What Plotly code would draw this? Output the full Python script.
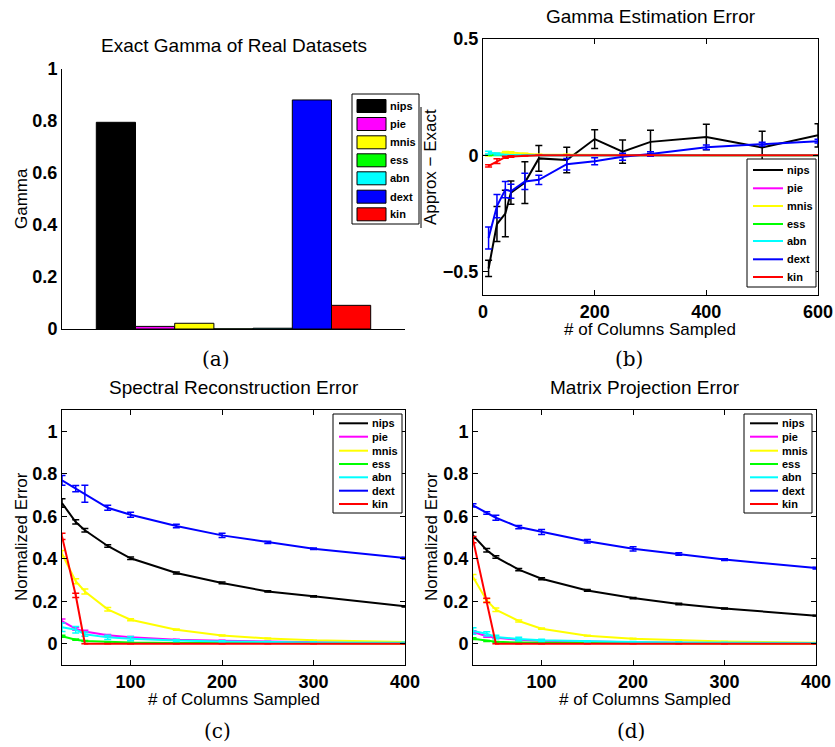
import plotly.graph_objects as go

W, H = 835, 747

names = ["nips", "pie", "mnis", "ess", "abn", "dext", "kin"]
colors = ["#000000", "#FF00FF", "#FFFF00", "#00FF00", "#00FFFF", "#0000FF", "#FF0000"]

# (a) exact gamma
gamma_exact = [0.795, 0.010, 0.022, 0.0005, 0.003, 0.881, 0.091]

# (b) gamma estimation error
x_b = [10, 25, 40, 50, 75, 100, 150, 200, 250, 300, 400, 500, 600]
b_nips = [-0.486, -0.295, -0.25, -0.16, -0.117, -0.013, -0.02, 0.07, 0.016, 0.058, 0.079, 0.034, 0.086]
b_nips_err = [0.035, 0.075, 0.1, 0.05, 0.09, 0.055, 0.055, 0.04, 0.05, 0.05, 0.055, 0.07, 0.05]
b_pie = [0.003, 0.002, 0.001, 0.001, 0.0, 0.0, 0.0, 0.0, 0.0, 0.0, 0.0, 0.0, 0.0]
b_pie_err = [0.002, 0.001, 0.001, 0.0, 0.0, 0.0, 0.0, 0.0, 0.0, 0.0, 0.0, 0.0, 0.0]
b_mnis = [0.0, 0.005, 0.012, 0.012, 0.006, 0.003, 0.003, 0.002, 0.001, 0.0, 0.0, 0.0, 0.0]
b_mnis_err = [0.003, 0.004, 0.005, 0.004, 0.003, 0.002, 0.002, 0.001, 0.001, 0.0, 0.0, 0.0, 0.0]
b_ess = [0.001, 0.001, 0.0, 0.0, 0.0, 0.0, 0.0, 0.0, 0.0, 0.0, 0.0, 0.0, 0.0]
b_ess_err = [0.001, 0.001, 0.0, 0.0, 0.0, 0.0, 0.0, 0.0, 0.0, 0.0, 0.0, 0.0, 0.0]
b_abn = [0.012, 0.006, 0.002, 0.001, 0.0, 0.0, 0.0, 0.0, 0.0, 0.0, 0.0, 0.0, 0.0]
b_abn_err = [0.006, 0.004, 0.002, 0.001, 0.0, 0.0, 0.0, 0.0, 0.0, 0.0, 0.0, 0.0, 0.0]
b_dext = [-0.355, -0.218, -0.147, -0.154, -0.112, -0.105, -0.038, -0.025, -0.006, 0.006, 0.035, 0.048, 0.061]
b_dext_err = [0.047, 0.05, 0.035, 0.03, 0.035, 0.02, 0.025, 0.015, 0.015, 0.01, 0.01, 0.008, 0.008]
b_kin = [-0.045, -0.025, -0.008, -0.005, -0.002, 0.0, 0.0, 0.0, 0.0, 0.0, 0.0, 0.0, 0.0]
b_kin_err = [0.005, 0.01, 0.004, 0.003, 0.001, 0.0, 0.0, 0.0, 0.0, 0.0, 0.0, 0.0, 0.0]

# (c) spectral reconstruction error, (d) matrix projection error
x_cd = [25, 40, 50, 75, 100, 150, 200, 250, 300, 400]
c_nips = [0.662, 0.573, 0.534, 0.46, 0.402, 0.333, 0.286, 0.246, 0.223, 0.176]
c_nips_err = [0.02, 0.01, 0.008, 0.006, 0.006, 0.005, 0.004, 0.003, 0.003, 0.003]
c_pie = [0.107, 0.07, 0.058, 0.04, 0.031, 0.019, 0.014, 0.01, 0.007, 0.004]
c_pie_err = [0.01, 0.006, 0.005, 0.004, 0.003, 0.002, 0.002, 0.001, 0.001, 0.001]
c_mnis = [0.424, 0.294, 0.246, 0.162, 0.113, 0.066, 0.039, 0.025, 0.016, 0.008]
c_mnis_err = [0.015, 0.012, 0.012, 0.008, 0.005, 0.003, 0.002, 0.002, 0.001, 0.001]
c_ess = [0.035, 0.019, 0.013, 0.008, 0.006, 0.004, 0.003, 0.002, 0.002, 0.001]
c_ess_err = [0.005, 0.003, 0.002, 0.001, 0.001, 0.001, 0.0, 0.0, 0.0, 0.0]
c_abn = [0.078, 0.066, 0.045, 0.03, 0.024, 0.015, 0.011, 0.008, 0.006, 0.005]
c_abn_err = [0.02, 0.015, 0.01, 0.01, 0.01, 0.004, 0.003, 0.002, 0.002, 0.002]
c_dext = [0.769, 0.73, 0.706, 0.64, 0.607, 0.554, 0.51, 0.477, 0.447, 0.403]
c_dext_err = [0.023, 0.015, 0.04, 0.012, 0.012, 0.008, 0.01, 0.005, 0.004, 0.004]
c_kin = [0.505, 0.228, 0.0, 0.0, 0.0, 0.0, 0.0, 0.0, 0.0, 0.0]
c_kin_err = [0.015, 0.01, 0.0, 0.0, 0.0, 0.0, 0.0, 0.0, 0.0, 0.0]

d_nips = [0.51, 0.44, 0.408, 0.349, 0.306, 0.251, 0.215, 0.187, 0.166, 0.132]
d_nips_err = [0.015, 0.008, 0.006, 0.005, 0.005, 0.004, 0.003, 0.003, 0.002, 0.002]
d_pie = [0.055, 0.035, 0.028, 0.019, 0.014, 0.009, 0.007, 0.005, 0.004, 0.003]
d_pie_err = [0.006, 0.004, 0.003, 0.002, 0.002, 0.001, 0.001, 0.001, 0.001, 0.0]
d_mnis = [0.314, 0.204, 0.16, 0.107, 0.071, 0.038, 0.024, 0.016, 0.01, 0.005]
d_mnis_err = [0.012, 0.008, 0.008, 0.005, 0.003, 0.002, 0.002, 0.001, 0.001, 0.001]
d_ess = [0.024, 0.013, 0.009, 0.006, 0.004, 0.003, 0.002, 0.002, 0.001, 0.001]
d_ess_err = [0.004, 0.002, 0.002, 0.001, 0.001, 0.0, 0.0, 0.0, 0.0, 0.0]
d_abn = [0.06, 0.047, 0.032, 0.022, 0.016, 0.011, 0.008, 0.006, 0.005, 0.004]
d_abn_err = [0.015, 0.01, 0.008, 0.008, 0.005, 0.003, 0.002, 0.002, 0.001, 0.001]
d_dext = [0.651, 0.615, 0.593, 0.549, 0.526, 0.482, 0.447, 0.422, 0.396, 0.356]
d_dext_err = [0.008, 0.006, 0.012, 0.008, 0.012, 0.008, 0.01, 0.006, 0.004, 0.004]
d_kin = [0.49, 0.204, 0.0, 0.0, 0.0, 0.0, 0.0, 0.0, 0.0, 0.0]
d_kin_err = [0.015, 0.01, 0.0, 0.0, 0.0, 0.0, 0.0, 0.0, 0.0, 0.0]

b_series = [(b_nips, b_nips_err), (b_pie, b_pie_err), (b_mnis, b_mnis_err), (b_ess, b_ess_err),
            (b_abn, b_abn_err), (b_dext, b_dext_err), (b_kin, b_kin_err)]
c_series = [(c_nips, c_nips_err), (c_pie, c_pie_err), (c_mnis, c_mnis_err), (c_ess, c_ess_err),
            (c_abn, c_abn_err), (c_dext, c_dext_err), (c_kin, c_kin_err)]
d_series = [(d_nips, d_nips_err), (d_pie, d_pie_err), (d_mnis, d_mnis_err), (d_ess, d_ess_err),
            (d_abn, d_abn_err), (d_dext, d_dext_err), (d_kin, d_kin_err)]

SANS = "Arial, 'Liberation Sans', Helvetica, sans-serif"
SERIF = "'DejaVu Serif', 'Liberation Serif', serif"


def px_x(p):
    return p / W


def px_y(p):
    return 1 - p / H


fig = go.Figure()

# (a) bars
for n, c, v in zip(names, colors, gamma_exact):
    fig.add_trace(go.Bar(x=[1], y=[v], name=n, marker=dict(color=c, line=dict(color="black", width=1)),
                         xaxis="x", yaxis="y", showlegend=False))

# line panels
for series, xs, xa, ya in [(b_series, x_b, "x2", "y2"),
                           (c_series, x_cd, "x3", "y3"),
                           (d_series, x_cd, "x4", "y4")]:
    for n, c, (v, e) in zip(names, colors, series):
        fig.add_trace(go.Scatter(x=xs, y=v, name=n, mode="lines",
                                 line=dict(color=c, width=2),
                                 error_y=dict(type="data", array=e, color=c, thickness=1.5, width=3.5),
                                 xaxis=xa, yaxis=ya, showlegend=False))

tickfont = dict(family=SANS, size=18, color="black", weight="bold")


def box_axis(domain, rng, **kw):
    d = dict(domain=domain, range=rng, showline=True, linecolor="black", linewidth=1,
             mirror="ticks", ticks="inside", ticklen=5, tickcolor="black", tickfont=tickfont,
             showgrid=False, zeroline=False)
    d.update(kw)
    return d


yticks_cd = [0, 0.2, 0.4, 0.6, 0.8, 1]
yticktext_cd = ["0", "0.2", "0.4", "0.6", "0.8", "1"]

fig.update_layout(
    width=W, height=H, margin=dict(l=0, r=0, t=0, b=0, autoexpand=False),
    plot_bgcolor="white", paper_bgcolor="white",
    barmode="group", bargap=0.2, bargroupgap=0,
    xaxis=dict(domain=[px_x(62), px_x(405)], range=[0.5, 1.5], showticklabels=False, ticks="",
               showline=True, linecolor="black", showgrid=False, zeroline=False, anchor="y"),
    yaxis=dict(domain=[px_y(329), px_y(69)], range=[0, 1], tickvals=[0, 0.2, 0.4, 0.6, 0.8, 1],
               ticktext=["0", "0.2", "0.4", "0.6", "0.8", "1"], showline=True, linecolor="black",
               ticks="", tickfont=tickfont, showgrid=False, zeroline=False, anchor="x"),
    xaxis2=box_axis([px_x(483), px_x(818)], [0, 600], anchor="y2", tickvals=[0, 200, 400, 600]),
    yaxis2=box_axis([px_y(295), px_y(39)], [-0.6, 0.5], anchor="x2", tickvals=[-0.5, 0, 0.5],
                    ticktext=["\u22120.5", "0", "0.5"]),
    xaxis3=box_axis([px_x(62), px_x(405)], [25, 400], anchor="y3", tickvals=[100, 200, 300, 400]),
    yaxis3=box_axis([px_y(665), px_y(410)], [-0.1, 1.1], anchor="x3", tickvals=yticks_cd,
                    ticktext=yticktext_cd),
    xaxis4=box_axis([px_x(473), px_x(816)], [25, 400], anchor="y4", tickvals=[100, 200, 300, 400]),
    yaxis4=box_axis([px_y(665), px_y(410)], [-0.1, 1.1], anchor="x4", tickvals=yticks_cd,
                    ticktext=yticktext_cd),
    showlegend=False,
)

# dashed zero reference line in (b)
fig.add_shape(type="line", xref="x2 domain", yref="y2", x0=0, x1=1, y0=0, y1=0,
              line=dict(color="black", width=1, dash="dash"), layer="below")

# overline of the (b) y label
fig.add_shape(type="line", xref="paper", yref="paper", x0=px_x(421), x1=px_x(421),
              y0=px_y(228), y1=px_y(107), line=dict(color="black", width=1))

legfont = dict(family=SANS, size=11, color="black", weight="bold")


def add_legend(box, sx0, sx1, tx, centers, kind):
    x0, y0, x1, y1 = box
    fig.add_shape(type="rect", xref="paper", yref="paper", x0=px_x(x0), x1=px_x(x1),
                  y0=px_y(y1), y1=px_y(y0), line=dict(color="black", width=1), fillcolor="white")
    for n, c, cy in zip(names, colors, centers):
        if kind == "rect":
            fig.add_shape(type="rect", xref="paper", yref="paper", x0=px_x(sx0), x1=px_x(sx1),
                          y0=px_y(cy + 6.5), y1=px_y(cy - 6.5), fillcolor=c,
                          line=dict(color="black", width=1))
        else:
            fig.add_shape(type="line", xref="paper", yref="paper", x0=px_x(sx0), x1=px_x(sx1),
                          y0=px_y(cy), y1=px_y(cy), line=dict(color=c, width=2))
        fig.add_annotation(text=n, x=px_x(tx), y=px_y(cy), xref="paper", yref="paper", showarrow=False,
                           xanchor="left", yanchor="middle", font=legfont)


add_legend((352, 94, 419, 224), 357, 386, 388, [106, 124, 142.3, 160.3, 178.3, 196.7, 214.3], "rect")
add_legend((747, 159, 816, 287), 753, 783, 785, [170, 188.3, 206, 224, 241, 259.3, 277], "line")
cd_centers = [423.3, 436.7, 450.7, 464, 477.3, 490.7, 504]
add_legend((333, 414, 402, 513), 339, 368, 370, cd_centers, "line")
add_legend((744, 414, 812, 513), 750, 778, 780, cd_centers, "line")

titlefont = dict(family=SANS, size=19, color="black")
labfont = dict(family=SANS, size=17, color="black")
capfont = dict(family=SERIF, size=20, color="black")

ann = [
    ("Exact Gamma of Real Datasets", 234, 46, 0, titlefont),
    ("Gamma Estimation Error", 651, 17, 0, titlefont),
    ("Spectral Reconstruction Error", 234, 387, 0, titlefont),
    ("Matrix Projection Error", 645, 387, 0, titlefont),
    ("Gamma", 21, 199, -90, labfont),
    ("Approx \u2212 Exact", 430, 167, -90, labfont),
    ("# of Columns Sampled", 650, 330, 0, labfont),
    ("Normalized Error", 21, 537, -90, labfont),
    ("# of Columns Sampled", 234, 699, 0, labfont),
    ("Normalized Error", 431, 537, -90, labfont),
    ("# of Columns Sampled", 645, 699, 0, labfont),
    ("(a)", 216, 359, 0, capfont),
    ("(b)", 629, 359, 0, capfont),
    ("(c)", 217, 731, 0, capfont),
    ("(d)", 631, 731, 0, capfont),
]
for t, x, y, rot, f in ann:
    fig.add_annotation(text=t, x=px_x(x), y=px_y(y), xref="paper", yref="paper", showarrow=False,
                       xanchor="center", yanchor="middle", textangle=rot, font=f)

# remove the browser's default page margin so the figure fills the window exactly
fig.write_html("out.html", config={"displayModeBar": False},
               post_script="document.body.style.margin='0';document.body.style.overflow='hidden';")
